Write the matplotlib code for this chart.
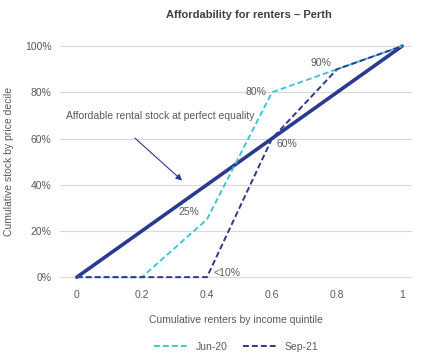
import matplotlib
matplotlib.use("Agg")
import matplotlib.pyplot as plt

plt.rcParams['font.family'] = ['Liberation Sans Narrow', 'Liberation Sans', 'DejaVu Sans']

# cumulative renters by income quintile
x = [0, 0.2, 0.4, 0.6, 0.8, 1]
x_labels = ['0', '0.2', '0.4', '0.6', '0.8', '1']

# cumulative rental stock by price decile
equality = [0, 0.2, 0.4, 0.6, 0.8, 1.0]
jun20 = [0, 0, 0.25, 0.8, 0.9, 1.0]
sep21 = [0, 0, 0, 0.6, 0.9, 1.0]

dark = '#2b3990'
cyan = '#3fc6d4'
grey = '#595959'

fig = plt.figure(figsize=(4.22, 3.56), dpi=100)
ax = fig.add_axes([0.142, 0.202, 0.834, 0.688])

ax.plot(x, equality, color=dark, lw=2.6, solid_capstyle='round', zorder=3)
ax.plot(x, jun20, color=cyan, lw=1.4, ls=(0, (3, 1.6)), label='Jun-20', zorder=4)
ax.plot(x, sep21, color=dark, lw=1.4, ls=(0, (3, 1.6)), label='Sep-21', zorder=4)

# point labels
ax.text(0.55, 0.8, '80%', color=grey, fontsize=7.5, ha='center', va='center')
ax.text(0.75, 0.926, '90%', color=grey, fontsize=7.5, ha='center', va='center')
ax.text(0.645, 0.575, '60%', color=grey, fontsize=7.5, ha='center', va='center')
ax.text(0.345, 0.28, '25%', color=grey, fontsize=7.5, ha='center', va='center')
ax.text(0.42, 0.02, '<10%', color=grey, fontsize=7.5, ha='left', va='center')

ax.text(-0.034, 0.698, 'Affordable rental stock at perfect equality', color=grey,
        fontsize=7.5, va='center', ha='left')
ax.annotate('', xy=(0.33, 0.41), xytext=(0.172, 0.61),
            arrowprops=dict(arrowstyle='-|>', color=dark, lw=0.8,
                            mutation_scale=9))

ax.set_xlim(-0.052, 1.03)
ax.set_ylim(-0.03, 1.03)
ax.set_xticks(x)
ax.set_xticklabels(x_labels)
ax.set_yticks([0, 0.2, 0.4, 0.6, 0.8, 1.0])
ax.set_yticklabels(['0%', '20%', '40%', '60%', '80%', '100%'])
ax.tick_params(length=0, colors=grey, labelsize=7.5, pad=6)
ax.tick_params(axis='x', pad=4)
ax.grid(axis='y', color='#d9d9d9', lw=0.8)
ax.set_axisbelow(True)
for s in ax.spines.values():
    s.set_visible(False)

ax.set_xlabel('Cumulative renters by income quintile', color=grey,
              fontsize=7.5, labelpad=11)
ax.set_ylabel('Cumulative stock by price decile', color=grey,
              fontsize=7.5, labelpad=8)
fig.suptitle('Affordability for renters – Perth', fontsize=8, fontweight='bold',
             color='#404040', x=0.59, y=0.972)

fig.legend(loc='lower center', bbox_to_anchor=(0.56, -0.015), ncol=2,
           frameon=False, fontsize=7.5, labelcolor=grey, handlelength=3.2,
           columnspacing=1.5)

fig.savefig('out.png', dpi=100)
